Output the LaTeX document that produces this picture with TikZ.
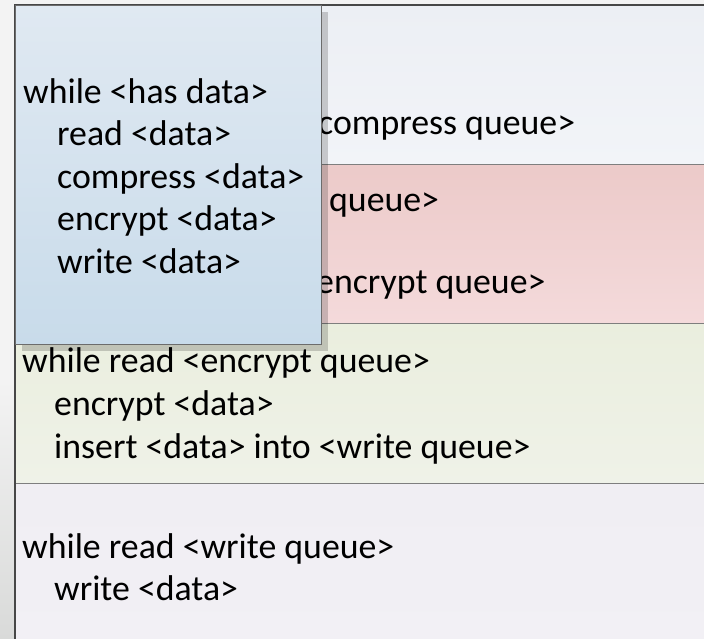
\documentclass[tikz,border=0pt]{standalone}
\usepackage{fontspec}
\setmainfont{Carlito}
\usetikzlibrary{shadows}

\definecolor{bggray}{HTML}{F3F3F3}
\definecolor{stripdark}{HTML}{D9DAD9}
\definecolor{topA}{HTML}{ECEFF4}
\definecolor{topB}{HTML}{F2F4F8}
\definecolor{redA}{HTML}{ECCAC9}
\definecolor{redB}{HTML}{F4DADB}
\definecolor{greenA}{HTML}{EAEEDE}
\definecolor{greenB}{HTML}{EFF2E8}
\definecolor{lavA}{HTML}{F0EEF3}
\definecolor{lavB}{HTML}{F2F0F5}
\definecolor{boxA}{HTML}{E0E9F2}
\definecolor{boxB}{HTML}{C8DBEA}
\definecolor{frameline}{HTML}{474747}
\definecolor{divider}{HTML}{7E7E7E}
\definecolor{boxline}{HTML}{6C6C6C}

\begin{document}
\begin{tikzpicture}[x=1pt, y=-1pt,
  band/.style={draw=divider, line width=1.2pt, anchor=north west,
    minimum width=740pt, minimum height=159pt, inner sep=0pt},
  code/.style={font=\fontsize{35.8}{42.6}\selectfont, align=left, inner sep=0pt,
    text=black},
  mainbox/.style={draw=boxline, line width=1.2pt, anchor=north west,
    top color=boxA, bottom color=boxB, inner sep=0pt,
    minimum width=306pt, minimum height=339pt,
    drop shadow={shadow xshift=6pt, shadow yshift=-6pt, opacity=0.18, fill=black}},
]
\useasboundingbox (0,0) rectangle (704,639);
\clip (0,0) rectangle (704,639);

% backdrop with the darker lower-left strip
\fill[bggray] (0,0) rectangle (704,639);
\shade[top color=bggray, bottom color=stripdark] (0,380) rectangle (16,639);

% pipeline stages, one band each
\node[band, top color=topA, bottom color=topB] (stage1) at (15,5) {};
\node[band, top color=redA, bottom color=redB] (stage2) at (15,164) {};
\node[band, top color=greenA, bottom color=greenB, minimum height=160pt] (stage3) at (15,323) {};
\node[band, top color=lavA, bottom color=lavB, minimum height=170pt] (stage4) at (15,483) {};

% outer frame: top and left edges
\draw[frameline, line width=1.6pt] (stage1.north east) -- (stage1.north west) -- (stage4.south west);

% stage texts
\node[code, anchor=base west] (s1tail) at (318,135) {compress queue>};
\node[code, anchor=base west] (s2head) at (329,212) {queue>};
\node[code, anchor=base west] (s2tail) at (316,293) {encrypt queue>};

\node[code, anchor=west] (s3txt) at (22,406)
  {while read <encrypt queue>\\
   \hspace*{32pt}encrypt <data>\\
   \hspace*{32pt}insert <data> into <write queue>};

\node[code, anchor=west] (s4txt) at (22,567)
  {while read <write queue>\\
   \hspace*{32pt}write <data>};

% sequential loop overlaid on the stages
\node[mainbox] (loop) at (15,5) {};
\node[code, anchor=west] (looptxt) at ([xshift=8pt, yshift=-1pt]loop.west)
  {while <has data>\\
   \hspace*{34pt}read <data>\\
   \hspace*{34pt}compress <data>\\
   \hspace*{34pt}encrypt <data>\\
   \hspace*{34pt}write <data>};
\end{tikzpicture}
\end{document}
